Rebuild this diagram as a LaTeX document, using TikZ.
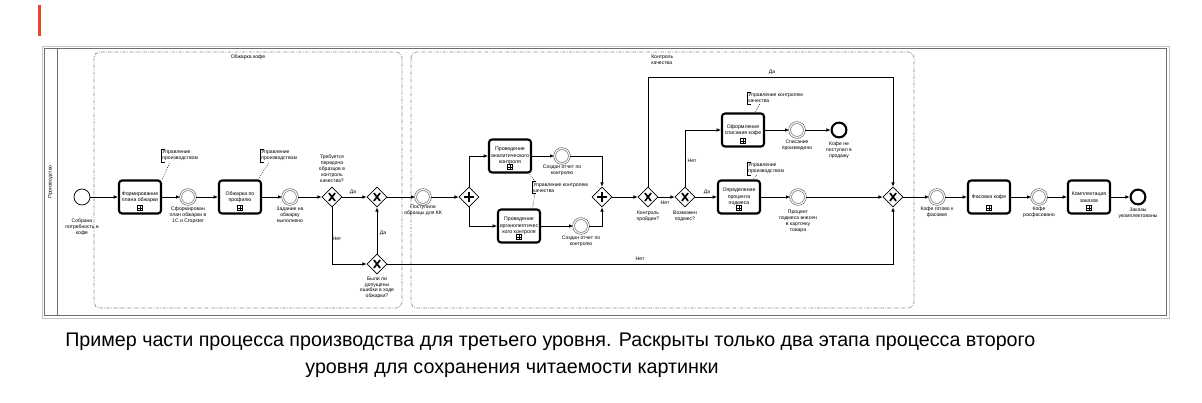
\documentclass[tikz,border=0pt]{standalone}
\usepackage{fontspec}
\setmainfont{Liberation Sans}
\usepackage{xcolor}
\definecolor{RahmenHell}{HTML}{C4C4C4}
\definecolor{RahmenDunkel}{HTML}{6E6E6E}
\definecolor{GruppeGrau}{HTML}{8C8C8C}
\definecolor{MarkerRot}{HTML}{E8472B}
\usetikzlibrary{positioning,arrows.meta,shapes.geometric}

\begin{document}
\begin{tikzpicture}[
    x=0.025cm, y=-0.025cm,
    task/.style={rectangle, draw, rounded corners=2.2pt, line width=1.5pt, minimum width=1.05cm, minimum height=0.825cm, inner sep=0.5pt, align=center, font=\fontsize{3.7}{4.6}\selectfont,
        path picture={
            \draw[sharp corners, line width=0.35pt] ([xshift=-1.8pt,yshift=2pt]path picture bounding box.south) rectangle ([xshift=1.8pt,yshift=5.6pt]path picture bounding box.south);
            \draw[line width=0.35pt] ([yshift=2.6pt]path picture bounding box.south) -- ([yshift=5pt]path picture bounding box.south);
            \draw[line width=0.35pt] ([xshift=-1.2pt,yshift=3.8pt]path picture bounding box.south) -- ([xshift=1.2pt,yshift=3.8pt]path picture bounding box.south);
        }},
    evt/.style={circle, draw, minimum size=0.4cm, inner sep=0pt, line width=0.55pt},
    ievt/.style={evt, draw=black!55, double=white, double distance=0.8pt, line width=0.5pt, minimum size=0.37cm},
    endevt/.style={evt, line width=1.5pt, minimum size=0.37cm},
    gate/.style={diamond, draw, aspect=1, minimum size=0.5cm, inner sep=0pt, line width=0.55pt},
    xgate/.style={gate, path picture={
            \draw[line width=1.2pt] ([xshift=-2.2pt,yshift=-2.8pt]path picture bounding box.center) -- ([xshift=2.2pt,yshift=2.8pt]path picture bounding box.center);
            \draw[line width=1.2pt] ([xshift=-2.2pt,yshift=2.8pt]path picture bounding box.center) -- ([xshift=2.2pt,yshift=-2.8pt]path picture bounding box.center);
        }},
    pgate/.style={gate, path picture={
            \draw[line width=1.8pt] ([xshift=-3.4pt]path picture bounding box.center) -- ([xshift=3.4pt]path picture bounding box.center);
            \draw[line width=1.8pt] ([yshift=-3.4pt]path picture bounding box.center) -- ([yshift=3.4pt]path picture bounding box.center);
        }},
    lbl/.style={inner sep=0pt, align=center, font=\fontsize{3.6}{4.2}\selectfont},
    annot/.style={inner sep=0.8pt, align=left, anchor=west, font=\fontsize{3.6}{4.2}\selectfont},
    flow/.style={-{Latex[length=3pt,width=2.6pt]}, line width=0.55pt},
    assoc/.style={densely dotted, line width=0.45pt},
    grp/.style={draw=GruppeGrau, dash pattern=on 2.4pt off 1pt on 0.6pt off 1pt, rounded corners=4pt, line width=0.5pt},
    caption/.style={inner sep=0pt, font=\fontsize{14}{16}\selectfont},
]
\useasboundingbox[fill=white] (0,0) rectangle (1202,402);

\fill[MarkerRot] (38,5) rectangle (41,36);

% Pool / Lane
\draw[RahmenHell, line width=0.7pt] (42,46) rectangle (1169,318);
\draw[RahmenDunkel, line width=0.6pt] (44.5,48.5) rectangle (1166.5,315.5);
\draw[RahmenDunkel, line width=0.6pt] (57,48.5) -- (57,315.5);
\node[lbl, rotate=90] (lane) at (50.5,182) {Производство};

% Gruppen
\draw[grp] (94,52) rectangle (402,308);
\draw[grp] (411,52) rectangle (914,308);
\node[lbl] (grpRoast) at (248,57) {Обжарка кофе};
\node[lbl, align=left, anchor=north west] (grpQc) at (651,55) {Контроль\\качества};

% Obzharka
\node[evt] (start) at (82,197) {};
\node[task] (plan) at (140,197) {Формирование\\плана обжарки};
\node[ievt] (planOk) at (188,197) {};
\node[task] (roast) at (240,197) {Обжарка по\\профилю};
\node[ievt] (roastOk) at (290,197) {};
\node[xgate] (needQc) at (332,197) {};
\node[xgate] (joinQc) at (377,197) {};
\node[xgate] (errors) at (377,264) {};

% Kontrol kachestva
\node[ievt] (samples) at (423,197) {};
\node[pgate] (split) at (469,197) {};
\node[task] (anal) at (510,156) {Проведение\\аналитического\\контроля};
\node[task] (organo) at (519,226) {Проведение\\органолептичес\\кого контроля};
\node[ievt] (analRep) at (562,156) {};
\node[ievt] (organoRep) at (581,226) {};
\node[pgate] (merge) at (602,197) {};
\node[xgate] (passed) at (648,197) {};
\node[xgate] (blend) at (685,197) {};
\node[task] (writeoff) at (743,130) {Оформление\\списания кофе};
\node[ievt] (writeoffOk) at (797,130) {};
\node[endevt] (notSold) at (839,130) {};
\node[task] (percent) at (739,197) {Определение\\процента\\подмеса};
\node[ievt] (percentOk) at (798,197) {};
\node[xgate] (ready) at (893,197) {};

% Fasovka
\node[ievt] (toPack) at (937,197) {};
\node[task] (pack) at (989,197) {Фасовка кофе};
\node[ievt] (packed) at (1039,197) {};
\node[task] (kit) at (1089,197) {Комплектация\\заказов};
\node[endevt] (done) at (1138,197) {};

% Podpisi
\node[lbl, below=3.3mm of start] (startL) {Собрана\\потребность в\\кофе};
\node[lbl, below=0.5mm of planOk] (planOkL) {Сформирован\\план обжарки в\\1С и Cropster};
\node[lbl, below=0.5mm of roastOk] (roastOkL) {Задание на\\обжарку\\выполнено};
\node[lbl, above=1mm of needQc] (needQcL) {Требуется\\передача\\образцов в\\контроль\\качества?};
\node[lbl, below=0.5mm of errors] (errorsL) {Были ли\\допущены\\ошибки в ходе\\обжарки?};
\node[lbl, below=0pt of samples] (samplesL) {Поступили\\образцы для КК};
\node[lbl, below=0.3mm of analRep] (analRepL) {Создан отчет по\\контролю};
\node[lbl, below=0.5mm of organoRep] (organoRepL) {Создан отчет по\\контролю};
\node[lbl, below=0.8mm of passed] (passedL) {Контроль\\пройден?};
\node[lbl, below=0.8mm of blend] (blendL) {Возможен\\подмес?};
\node[lbl, below=0.5mm of writeoffOk] (writeoffOkL) {Списание\\произведено};
\node[lbl, below=0.7mm of notSold] (notSoldL) {Кофе не\\поступил в\\продажу};
\node[lbl, below=1.2mm of percentOk] (percentOkL) {Процент\\подмеса внесен\\в карточку\\товара};
\node[lbl, below=0.5mm of toPack] (toPackL) {Кофе готово к\\фасовке};
\node[lbl, below=0.5mm of packed] (packedL) {Кофе\\расфасовано};
\node[lbl, below=0.5mm of done] (doneL) {Заказы\\укомплектованы};

% Annotacii
\node[annot] (ann1) at (161,155.5) {Управление\\производством};
\node[annot] (ann2) at (260,155.5) {Управление\\производством};
\node[annot] (ann3) at (532,187.5) {Управление контролем\\качества};
\node[annot] (ann4) at (747,98) {Управление контролем\\качества};
\node[annot] (ann5) at (747,168.5) {Управление\\производством};
\foreach \a in {ann1,ann2,ann3,ann4,ann5}
    \draw[line width=0.5pt] ([xshift=2.5pt]\a.north west) -| (\a.south west) -- ++(2.5pt,0);
\draw[assoc] (ann1.south west) ++(6pt,-1pt) -- (plan.north east);
\draw[assoc] (ann2.south west) ++(6pt,-1pt) -- ([xshift=-3pt]roast.north east);
\draw[assoc] ([xshift=2pt]ann3.north west) -- ([xshift=-2pt]anal.south east);
\draw[assoc] ([xshift=2pt]ann3.south west) -- ([xshift=-6pt]organo.north east);
\draw[assoc] ([xshift=9pt]ann4.south west) -- ([xshift=-7pt]writeoff.north east);
\draw[assoc] ([xshift=7pt]ann5.south west) -- ([xshift=-6pt]percent.north east);

% Potoki
\foreach \a/\b in {start/plan, plan/planOk, planOk/roast, roast/roastOk, roastOk/needQc,
    joinQc/samples, samples/split, anal/analRep, merge/passed, percent/percentOk,
    writeoff/writeoffOk, writeoffOk/notSold, percentOk/ready,
    ready/toPack, toPack/pack, pack/packed, packed/kit, kit/done}
    \draw[flow] (\a) -- (\b);
\draw[flow] (needQc) -- (joinQc);
\draw[flow] (needQc.south) |- (errors.west);
\draw[flow] (errors.north) -- (joinQc.south);
\draw[flow] (errors.east) -| (ready.south);
\draw[flow] (split.north) |- (anal.west);
\draw[flow] (split.south) |- (organo.west);
\draw[flow] (organo) -- (organoRep);
\draw[flow] (analRep.east) -| (merge.north);
\draw[flow] (organoRep.east) -| (merge.south);
\draw[flow] (passed) -- (blend);
\coordinate (qcYes) at (893,77);
\draw[flow] (passed.north) |- (qcYes) -- (ready.north);
\draw[flow] (blend.north) |- (writeoff.west);
\draw[flow] (blend) -- (percent);

% Da / Net
\node[lbl] (y1) at (353,192) {Да};
\node[lbl] (n1) at (337,239) {Нет};
\node[lbl] (y2) at (383,233) {Да};
\node[lbl] (n2) at (640,259) {Нет};
\node[lbl] (y3) at (772,72) {Да};
\node[lbl] (n3) at (665,203) {Нет};
\node[lbl] (n4) at (692,161) {Нет};
\node[lbl] (y4) at (707,192) {Да};

% Podpis k risunku
\node[caption, anchor=west] (cap1) at (65,342) {Пример части процесса производства для третьего уровня. Раскрыты только два этапа процесса второго};
\node[caption] (cap2) at (512,370) {уровня для сохранения читаемости картинки};

\end{tikzpicture}
\end{document}
